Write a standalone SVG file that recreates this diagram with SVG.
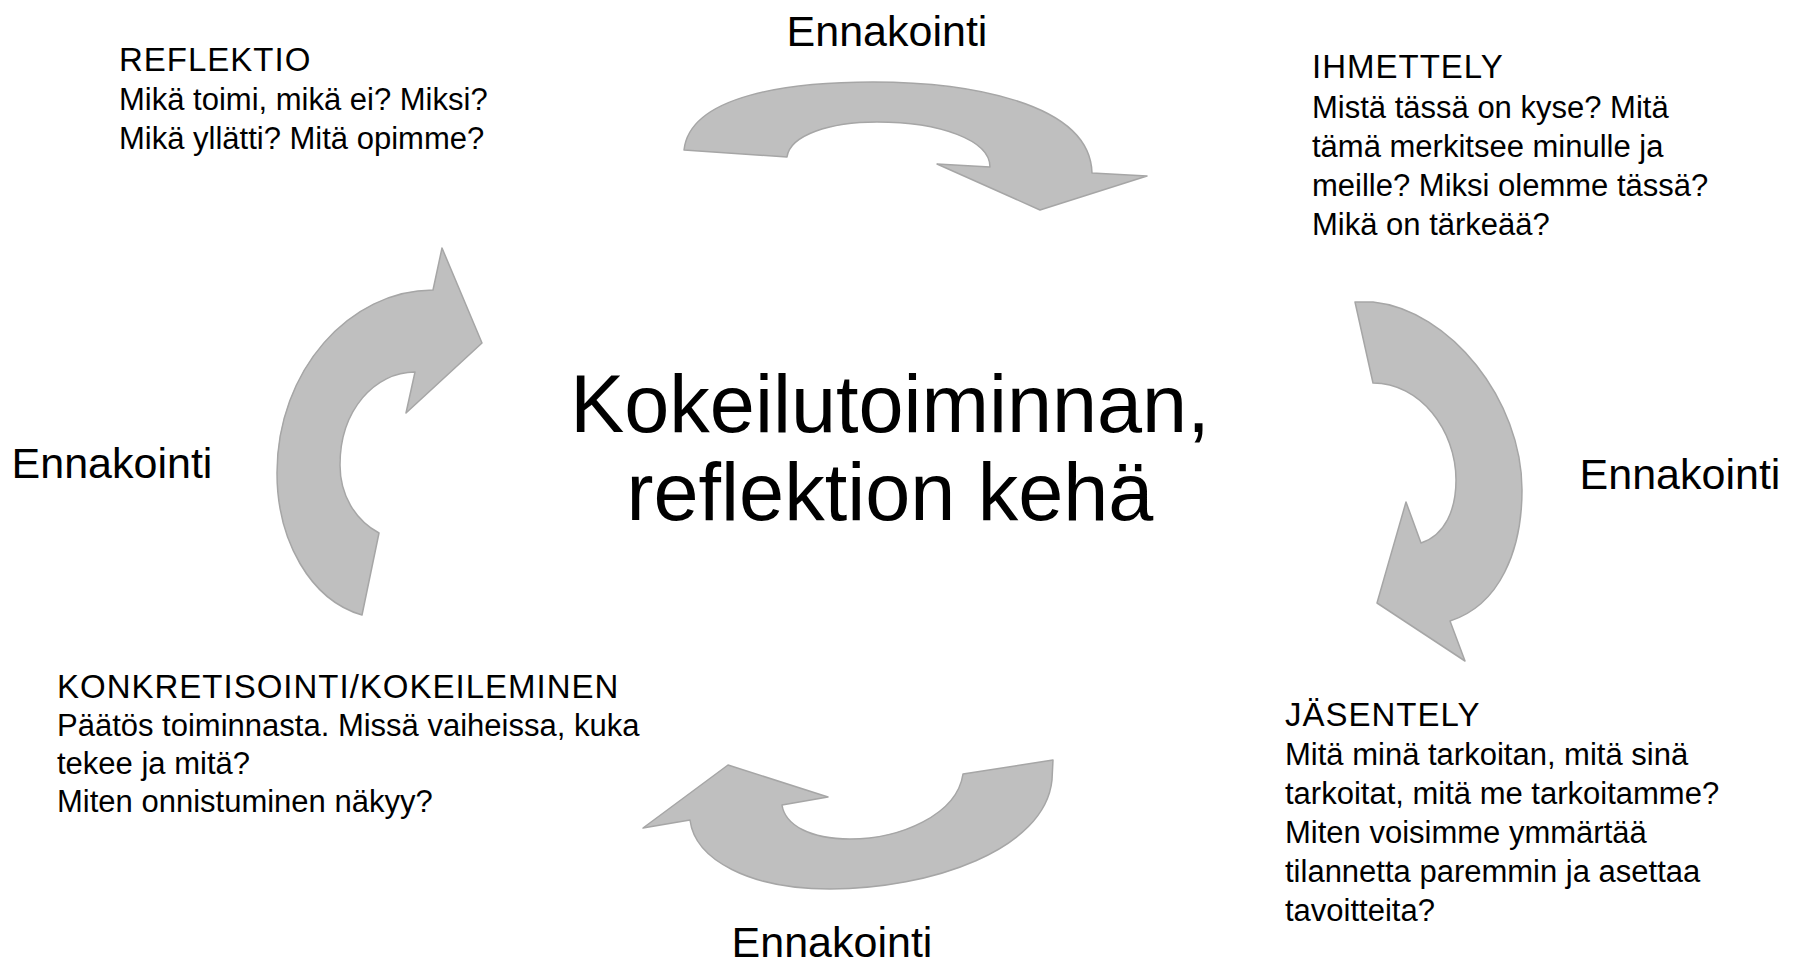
<svg xmlns="http://www.w3.org/2000/svg" width="1793" height="968" viewBox="0 0 1793 968">
<style>
.arrow{fill:#bfbfbf;stroke:#a6a6a6;stroke-width:1.5;stroke-linejoin:round}
text{font-family:"Liberation Sans",Arial,sans-serif;fill:#000}
.lbl{font-size:43px;text-anchor:middle}
.title{font-size:81px;text-anchor:middle}
.blk{font-size:31px}
.hd{font-size:33px;letter-spacing:1px}
</style>
<rect width="1793" height="968" fill="#fff"/>
<g id="connectors">
<path class="arrow" d="M684,150 C690,95 790,82 873,82 C960,82 1090,100 1092,173 L1147,176 L1040,210 L937,164 L990,167 C990,140 940,122 877,122 C830,122 790,135 787,157 Z"/>
<path class="arrow" d="M1355,302 L1373,302 C1450,310 1522,400 1522,490 C1522,550 1500,605 1450,621 L1465,661 L1377,603 L1406,502 L1421,543 C1445,535 1456,510 1456,480 C1456,430 1420,383 1373,383 Z"/>
<path class="arrow" d="M1053,760 L1052,780 C1045,850 930,889 830,889 C750,889 695,860 690,820 L643,828 L728,765 L828,797 L782,805 C785,825 810,839 850,839 C900,839 957,815 963,774 Z"/>
<path class="arrow" d="M362,615 L379,533 C355,520 340,495 340,465 C340,410 375,372 415,372 L406,413 L482,343 L442,248 L433,290 C350,290 277,370 277,473 C277,540 310,600 362,615 Z"/>
</g>
<g id="labels">
<text class="lbl" x="887" y="46">Ennakointi</text>
<text class="lbl" x="1680" y="489">Ennakointi</text>
<text class="lbl" x="832" y="957">Ennakointi</text>
<text class="lbl" x="112" y="478">Ennakointi</text>
</g>
<g id="center">
<text class="title" x="890" y="432">Kokeilutoiminnan,</text>
<text class="title" x="890" y="520">reflektion kehä</text>
</g>
<g id="reflektio">
<text class="blk hd" x="119" y="71">REFLEKTIO</text>
<text class="blk" x="119" y="110">Mikä toimi, mikä ei? Miksi?</text>
<text class="blk" x="119" y="149">Mikä yllätti? Mitä opimme?</text>
</g>
<g id="ihmettely">
<text class="blk hd" x="1312" y="78">IHMETTELY</text>
<text class="blk" x="1312" y="118">Mistä tässä on kyse? Mitä</text>
<text class="blk" x="1312" y="157">tämä merkitsee minulle ja</text>
<text class="blk" x="1312" y="196">meille? Miksi olemme tässä?</text>
<text class="blk" x="1312" y="235">Mikä on tärkeää?</text>
</g>
<g id="jasentely">
<text class="blk hd" x="1285" y="726">JÄSENTELY</text>
<text class="blk" x="1285" y="765">Mitä minä tarkoitan, mitä sinä</text>
<text class="blk" x="1285" y="804">tarkoitat, mitä me tarkoitamme?</text>
<text class="blk" x="1285" y="843">Miten voisimme ymmärtää</text>
<text class="blk" x="1285" y="882">tilannetta paremmin ja asettaa</text>
<text class="blk" x="1285" y="921">tavoitteita?</text>
</g>
<g id="konkretisointi">
<text class="blk hd" x="57" y="698">KONKRETISOINTI/KOKEILEMINEN</text>
<text class="blk" x="57" y="736">Päätös toiminnasta. Missä vaiheissa, kuka</text>
<text class="blk" x="57" y="774">tekee ja mitä?</text>
<text class="blk" x="57" y="812">Miten onnistuminen näkyy?</text>
</g>
</svg>
